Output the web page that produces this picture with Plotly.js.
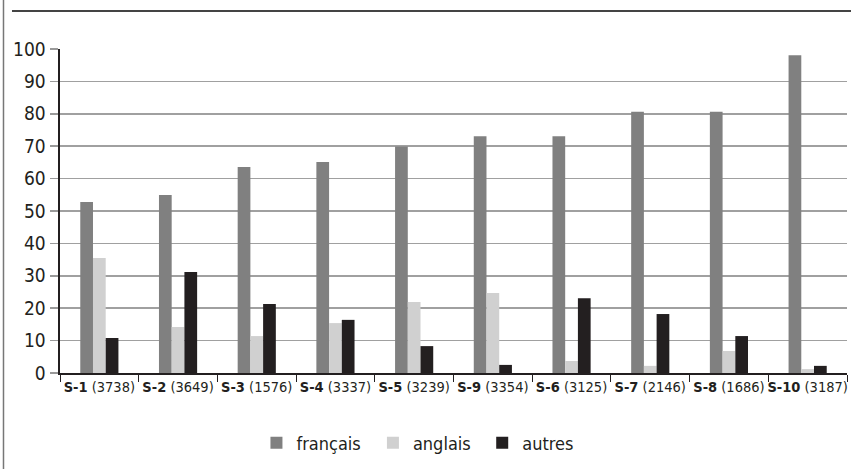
<!DOCTYPE html>
<html>
<head>
<meta charset="utf-8">
<script src="https://cdn.plot.ly/plotly-3.0.1.min.js"></script>
<style>
html,body{margin:0;padding:0;background:#fff;}
#chart{width:851px;height:469px;}
#chart text{font-stretch:condensed !important;}
</style>
</head>
<body>
<div id="chart"></div>
<script>
var categories = ["S-1 (3738)","S-2 (3649)","S-3 (1576)","S-4 (3337)","S-5 (3239)","S-9 (3354)","S-6 (3125)","S-7 (2146)","S-8 (1686)","S-10 (3187)"];
var codes = ["S-1","S-2","S-3","S-4","S-5","S-9","S-6","S-7","S-8","S-10"];
var counts = ["3738","3649","1576","3337","3239","3354","3125","2146","1686","3187"];
var francais = [52.8, 54.9, 63.6, 65.1, 69.9, 73.1, 73.1, 80.6, 80.6, 98.1];
var anglais  = [35.5, 14.2, 11.4, 15.4, 21.9, 24.7, 3.7, 2.2, 6.8, 1.2];
var autres   = [10.8, 31.2, 21.3, 16.4, 8.3, 2.5, 23.1, 18.2, 11.4, 2.2];
var yTicks = [0,10,20,30,40,50,60,70,80,90,100];

var tickText = codes.map(function(c,i){ return "<b>"+c+"</b> ("+counts[i]+")"; });
var FONT = "'DejaVu Sans', sans-serif";

var traces = [
  {type:'bar', name:'français', x:categories, y:francais, marker:{color:'#808080'}},
  {type:'bar', name:'anglais', x:categories, y:anglais, marker:{color:'#d0d0d0'}},
  {type:'bar', name:'autres', x:categories, y:autres, marker:{color:'#231f20'}}
];

var layout = {
  width:851, height:469,
  margin:{l:60, r:4, t:49, b:96},
  paper_bgcolor:'#fff', plot_bgcolor:'#fff',
  barmode:'group', bargap:0.515, bargroupgap:0,
  font:{family:FONT, color:'#231f20', size:16},
  showlegend:true,
  legend:{orientation:'h', x:0.458, xanchor:'center', y:-0.216, yanchor:'middle',
          font:{family:FONT, size:18, color:'#231f20'}, traceorder:'normal'},
  xaxis:{type:'category', tickvals:categories, ticktext:tickText, tickangle:0,
         showline:true, linecolor:'#231f20', linewidth:2,
         ticks:'outside', tickson:'boundaries', ticklen:7, tickcolor:'#231f20', tickwidth:1,
         showgrid:false, tickfont:{family:FONT, size:14.5, color:'#231f20'}, fixedrange:true},
  yaxis:{range:[0,100], tickvals:yTicks, showline:true, linecolor:'#231f20', linewidth:2.5,
         ticks:'outside', ticklen:8, tickcolor:'#999', tickwidth:1.5,
         showgrid:true, gridcolor:'#a0a0a0', gridwidth:1.5, zeroline:false,
         tickfont:{family:FONT, size:19, color:'#231f20'}, fixedrange:true},
  shapes:[
    {type:'line', xref:'paper', yref:'paper', x0:-0.0718, x1:-0.0718, y0:-0.3, y1:1.16,
     line:{color:'#777', width:1.5}},
    {type:'line', xref:'paper', yref:'paper', x0:-0.061, x1:1.01, y0:1.117, y1:1.117,
     line:{color:'#444', width:2}}
  ]
};

Plotly.newPlot('chart', traces, layout, {displayModeBar:false, staticPlot:true});
</script>
</body>
</html>
